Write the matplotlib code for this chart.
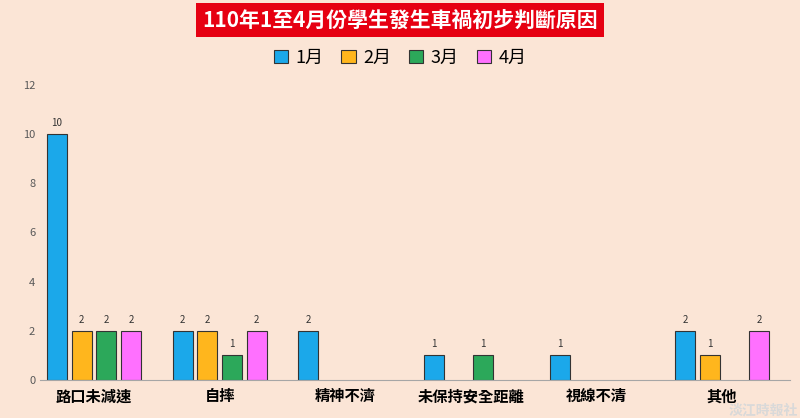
import matplotlib
matplotlib.use("Agg")
import matplotlib.pyplot as plt
import numpy as np
from matplotlib.patches import Rectangle

plt.rcParams['font.family'] = ['Noto Sans CJK TC', 'DejaVu Sans']

categories = ['路口未減速', '自摔', '精神不濟', '未保持安全距離', '視線不清', '其他']
series_names = ['1月', '2月', '3月', '4月']
jan = [10, 2, 2, 1, 1, 2]
feb = [2, 2, 0, 0, 0, 1]
mar = [2, 1, 0, 1, 0, 0]
apr = [2, 2, 0, 0, 0, 2]
colors = ['#1ba8ea', '#ffb61d', '#2ca85a', '#ff70ff']

bg = '#fbe5d6'
fig = plt.figure(figsize=(8, 4.18), dpi=100, facecolor=bg)
ax = fig.add_axes([0.05, 0.091, 0.9375, 0.706], facecolor=bg)

x = np.arange(len(categories))
step, width = 0.196, 0.16
for i, (vals, c) in enumerate(zip([jan, feb, mar, apr], colors)):
    off = (i - 1.5) * step
    for xi, v in zip(x, vals):
        if v == 0:
            continue
        ax.bar(xi + off, v, width, color=c, edgecolor='#333333', linewidth=0.8)
        ax.text(xi + off, v + 0.25, str(v), ha='center', va='bottom', fontsize=7, color='#333333')

ax.set_xlim(-0.43, 5.54)
ax.set_ylim(0, 12)
ax.set_yticks(range(0, 13, 2))
ax.tick_params(axis='y', labelsize=8, colors='#595959', length=0)
ax.set_xticks(x)
ax.set_xticklabels(categories, fontsize=11, fontweight='bold', color='black')
ax.tick_params(axis='x', length=0, pad=6)
for s in ['top', 'right', 'left']:
    ax.spines[s].set_visible(False)
ax.spines['bottom'].set_color('#a6a6a6')

# title
fig.text(0.5, 0.952, '110年1至4月份學生發生車禍初步判斷原因', ha='center', va='center',
         fontsize=15, fontweight='bold', color='white',
         bbox=dict(boxstyle='square,pad=0.3', facecolor='#e60012', edgecolor='none'))

# legend
handles = [Rectangle((0, 0), 1, 1, facecolor=c, edgecolor='#333333', linewidth=0.8) for c in colors]
fig.legend(handles, series_names, loc='center', bbox_to_anchor=(0.5, 0.862), ncol=4,
           frameon=False, fontsize=13, handlelength=0.8, handleheight=0.8,
           columnspacing=1.0, handletextpad=0.4)

# watermark
fig.text(0.998, 0.002, '淡江時報社', ha='right', va='bottom', fontsize=10, fontweight='bold',
         color='#d9d9d9')

fig.savefig('out.png', dpi=100, facecolor=bg)
